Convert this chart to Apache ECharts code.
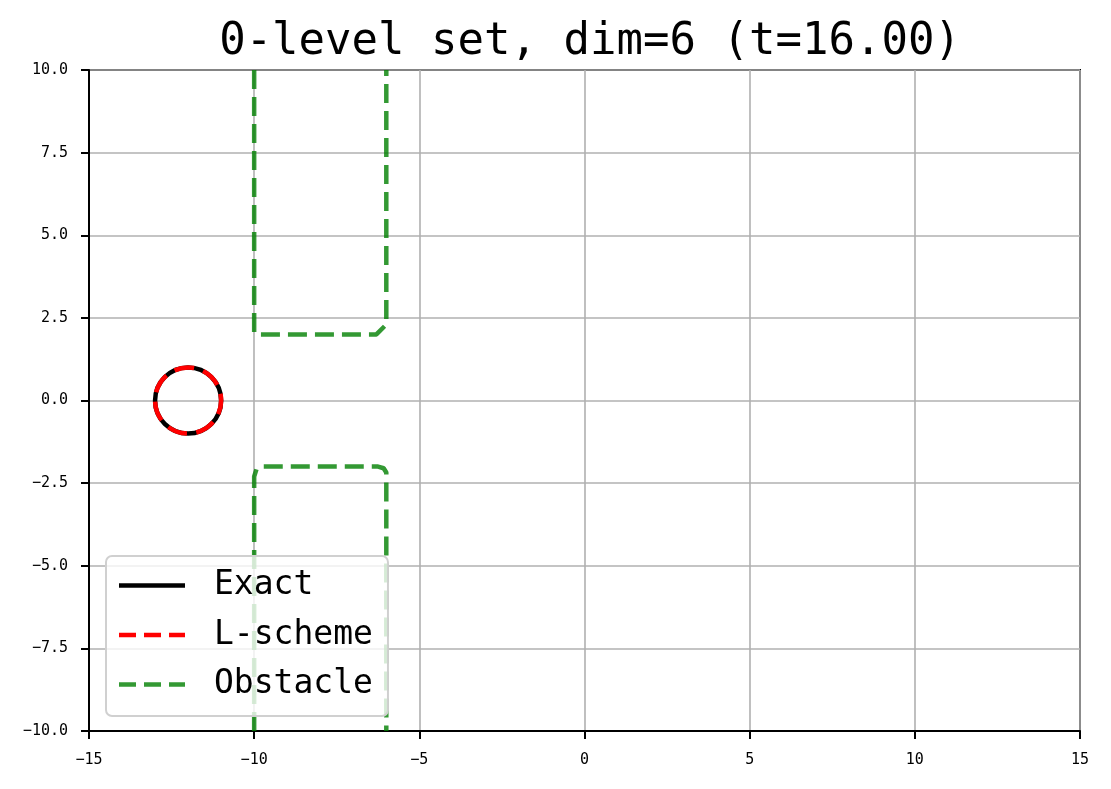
<!DOCTYPE html>
<html>
<head>
<meta charset="utf-8">
<script src="https://cdn.jsdelivr.net/npm/echarts@6/dist/echarts.min.js"></script>
<style>
  html, body { margin: 0; padding: 0; background: #fff; }
  #chart { width: 1111px; height: 789px; }
</style>
</head>
<body>
<div id="chart"></div>
<script>
// 数据
const xTicks = [-15, -10, -5, 0, 5, 10, 15];
const yTicks = [-10, -7.5, -5, -2.5, 0, 2.5, 5, 7.5, 10];
// 圆: [cx, cy, r]
const exactCircle = [[-12, 0, 1]];
const lschemeCircle = [[-12, 0, 1]];
// 障碍物 0-level 边界
const obstacleUpper = [
  [-10, 10], [-10, 2.05], [-9.92, 2.0], [-6.3, 2.0], [-6.0, 2.3], [-6.0, 10]
];
const obstacleLower = [
  [-10, -10], [-10, -2.3], [-9.93, -2.08], [-9.76, -2.0], [-6.25, -2.0], [-6.08, -2.05], [-6.0, -2.18], [-6.0, -10]
];

const FONT = "'DejaVu Sans Mono', monospace";
const GREEN = 'rgba(0,128,0,0.8)';
const DASH = [19, 8];

function fmtMinus(v) {
  return String(v).replace('-', '\u2212');
}

function circleItem(color, dash) {
  return function (params, api) {
    const c = api.coord([api.value(0), api.value(1)]);
    const s = api.size([api.value(2), api.value(2)]);
    return {
      type: 'circle',
      shape: { cx: c[0], cy: c[1], r: (s[0] + s[1]) / 2 },
      style: { fill: 'none', stroke: color, lineWidth: 4.5, lineDash: dash, lineDashOffset: 6 }
    };
  };
}

const myChart = echarts.init(document.getElementById('chart'));
const dashIcon = 'path://M0,0H17V4.5H0Z M25,0H42V4.5H25Z M50,0H66V4.5H50Z';
const solidIcon = 'path://M0,0H66V4.5H0Z';

const option = {
  animation: false,
  backgroundColor: '#fff',
  title: {
    text: '0-level set, dim=6 (t=16.00)',
    left: 585,
    top: 16,
    textAlign: 'center',
    textStyle: { fontFamily: FONT, fontSize: 44, fontWeight: 'normal', color: '#000' }
  },
  grid: {
    left: 89, right: 31, top: 70, bottom: 58,
    show: true, borderColor: '#000', borderWidth: 2, backgroundColor: 'transparent'
  },
  legend: {
    orient: 'vertical',
    left: 106,
    top: 556,
    padding: [11, 15, 13, 13],
    itemGap: 12.5,
    itemWidth: 66,
    itemHeight: 4.5,
    backgroundColor: 'rgba(255,255,255,0.8)',
    borderColor: '#d0d0d0',
    borderWidth: 2,
    borderRadius: 6,
    textStyle: { fontFamily: FONT, fontSize: 33, lineHeight: 37, color: '#000', padding: [0, 0, 0, 24] },
    data: [
      { name: 'Exact', icon: solidIcon, itemStyle: { color: '#000' } },
      { name: 'L-scheme', icon: dashIcon, itemStyle: { color: 'red' } },
      { name: 'Obstacle', icon: dashIcon, itemStyle: { color: GREEN } }
    ]
  },
  xAxis: {
    type: 'value',
    min: xTicks[0],
    max: xTicks[xTicks.length - 1],
    interval: 5,
    axisLine: { onZero: false, lineStyle: { color: '#000', width: 2 } },
    axisTick: { show: true, length: 8, lineStyle: { color: '#000', width: 2 } },
    axisLabel: { fontFamily: FONT, fontSize: 15, color: '#000', margin: 22, formatter: fmtMinus },
    splitLine: { show: true, lineStyle: { color: '#b0b0b0', width: 1.6 } }
  },
  yAxis: {
    type: 'value',
    min: yTicks[0],
    max: yTicks[yTicks.length - 1],
    interval: 2.5,
    axisLine: { onZero: false, lineStyle: { color: '#000', width: 2 } },
    axisTick: { show: true, length: 8, lineStyle: { color: '#000', width: 2 } },
    axisLabel: {
      fontFamily: FONT, fontSize: 15, color: '#000', margin: 21,
      formatter: v => fmtMinus(v.toFixed(1))
    },
    splitLine: { show: true, lineStyle: { color: '#b0b0b0', width: 1.6 } }
  },
  series: [
    {
      name: 'Exact',
      type: 'custom',
      coordinateSystem: 'cartesian2d',
      itemStyle: { color: '#000' },
      renderItem: circleItem('#000', null),
      data: exactCircle,
      z: 3
    },
    {
      name: 'L-scheme',
      type: 'custom',
      coordinateSystem: 'cartesian2d',
      itemStyle: { color: 'red' },
      renderItem: circleItem('red', [20, 9.5]),
      data: lschemeCircle,
      z: 4
    },
    {
      name: 'Obstacle',
      type: 'line',
      data: obstacleUpper,
      showSymbol: false,
      symbol: 'none',
      itemStyle: { color: GREEN },
      lineStyle: { color: GREEN, width: 4.5, type: DASH },
      z: 3
    },
    {
      name: 'Obstacle',
      type: 'line',
      data: obstacleLower,
      showSymbol: false,
      symbol: 'none',
      itemStyle: { color: GREEN },
      lineStyle: { color: GREEN, width: 4.5, type: DASH },
      z: 3
    }
  ]
};
option && myChart.setOption(option);
</script>
</body>
</html>
